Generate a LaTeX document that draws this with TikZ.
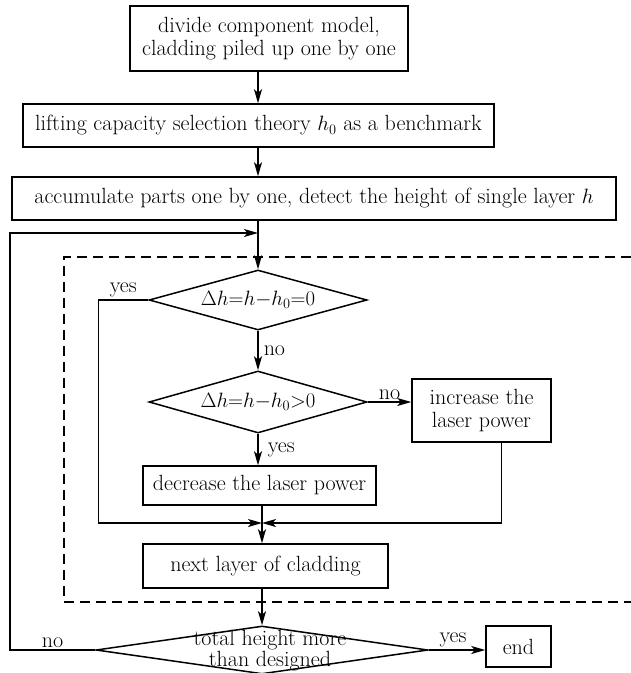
\documentclass[tikz,border=0pt]{standalone}
\usepackage{amsmath}
\usepackage{fontspec}
\usepackage{tikz}
\usetikzlibrary{arrows.meta,positioning,calc,shapes.geometric}
\tikzset{
  >={Stealth[length=14pt,width=8pt,inset=3.5pt]},
  box/.style={draw,line width=1.5pt,inner sep=0pt,align=center,font=\fontsize{22}{23}\selectfont},
  dia/.style={diamond,draw,line width=1.5pt,inner sep=0pt,aspect=3.6,font=\fontsize{20}{22}\selectfont},
  flow/.style={->,line width=1.5pt},
  tag/.style={font=\fontsize{22}{23}\selectfont,inner sep=2pt},
  rtag/.style={tag,right,inner sep=5pt},
  frame/.style={line width=1.5pt,dash pattern=on 10pt off 6pt},
}

\begin{document}
\begin{tikzpicture}[x=1pt,y=-1pt]
  \useasboundingbox (0,0) rectangle (631,673);
  \node[box,minimum width=278pt,minimum height=65pt] (divide) at (269,38.5) {divide component model,\\cladding piled up one by one};
  \node[box,minimum width=471pt,minimum height=43pt] (bench) at (258.5,125.5) {lifting capacity selection theory $h_{0}$ as a benchmark};
  \node[box,minimum width=604pt,minimum height=43pt] (accum) at (314,198.5) {accumulate parts one by one, detect the height of single layer $h$};
  \node[dia,minimum width=218pt,minimum height=60pt] (eqz) at (258,300) {$\Delta h{=}h{-}h_{0}{=}0$};
  \node[dia,minimum width=218pt,minimum height=62pt] (gtz) at (258,402) {$\Delta h{=}h{-}h_{0}{>}0$};
  \node[box,minimum width=139pt,minimum height=63pt] (inc) at (481.5,410.5) {increase the\\laser power};
  \node[box,minimum width=233pt,minimum height=39pt] (dec) at (259.5,485.5) {decrease the laser power};
  \node[box,minimum width=245pt,minimum height=44pt] (nextl) at (265.5,566) {next layer of cladding};
  \node[dia,minimum width=332pt,minimum height=48pt] (total) at (262,650) {};
  \node[tag,align=center,font=\fontsize{22}{21}\selectfont] (totalt) at ([xshift=8pt,yshift=-1pt]total.center) {total height more\\than designed};
  \node[box,minimum width=65pt,minimum height=41pt] (stop) at (518.5,646.5) {end};
  \coordinate (back) at (258,233);
  \coordinate (loopc) at (10,233);
  \coordinate (merge) at (262,523);
  \draw[frame] (631,257) -| (64,602) -- (631,602);
  \draw[flow] (divide.south -| eqz) -- (bench.north -| eqz);
  \draw[flow] (bench.south -| eqz) -- (accum.north -| eqz);
  \draw[flow] (accum.south -| eqz) -- (eqz.north);
  \draw[flow] (eqz.south) -- node[rtag]{no} (gtz.north);
  \draw[flow] (gtz.east) -- node[tag,above]{no} (gtz.east -| inc.west);
  \draw[flow] (gtz.south) -- node[rtag,xshift=4pt]{yes} (gtz.south |- dec.north);
  \draw[flow] (eqz.west) -- node[tag,above]{yes} ++(-50,0) |- (merge);
  \draw[flow] ([xshift=20pt]inc.south) |- (merge);
  \draw[flow] (dec.south -| merge) -- (nextl.north -| merge);
  \draw[flow] (nextl.south -| merge) -- (total.north);
  \draw[flow] (total.east) -- node[tag,above,xshift=-4pt]{yes} (total.east -| stop.west);
  \draw[flow] (total.west) -- node[tag,above]{no} (total.west -| loopc) -- (loopc) -- (back);
\end{tikzpicture}
\end{document}
